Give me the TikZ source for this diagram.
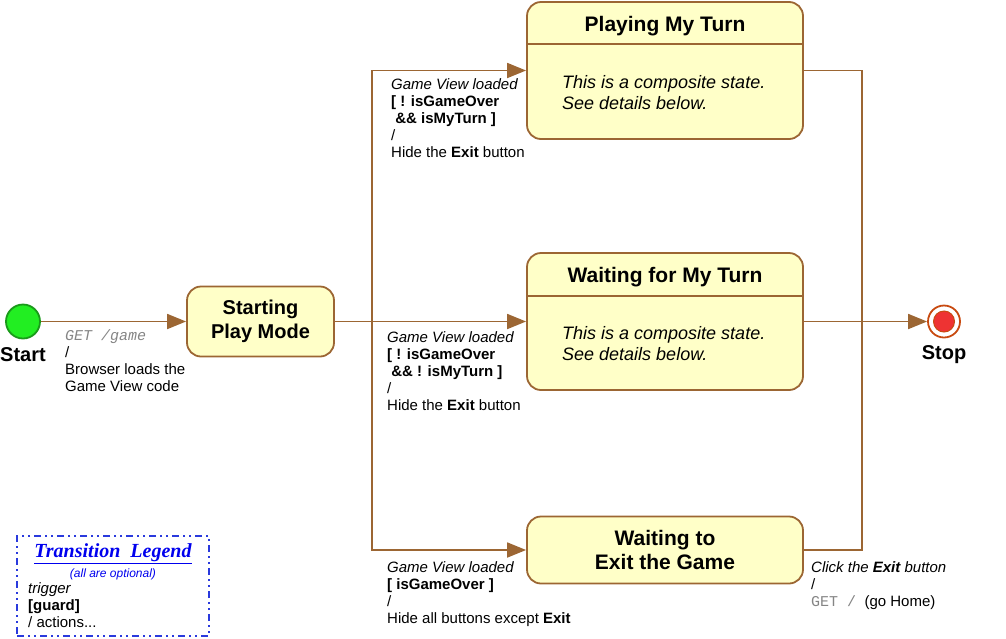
\documentclass[tikz,border=0pt]{standalone}
\usepackage{fontspec}
\setmainfont{Liberation Sans}
\setmonofont{Liberation Mono}
\newfontfamily\legendfont{Liberation Serif}
\usetikzlibrary{arrows.meta,positioning,calc}

\definecolor{linebrown}{HTML}{9C6633}
\definecolor{statefill}{HTML}{FFFFC8}
\definecolor{startgreen}{HTML}{22EE22}
\definecolor{startborder}{HTML}{1A9A1A}
\definecolor{stopring}{HTML}{C84A10}
\definecolor{stopred}{HTML}{EE3333}
\definecolor{legendblue}{HTML}{2A3ADD}
\definecolor{titleblue}{HTML}{0000EE}
\definecolor{codegray}{HTML}{858585}
\newcommand{\codetxt}[1]{{\ttfamily\color{codegray}#1}}

\begin{document}
\begin{tikzpicture}[x=1pt,y=-1pt,
  state/.style={draw=linebrown, fill=statefill, line width=1.8pt, rounded corners=14pt},
  trans/.style={draw=linebrown, line width=1.8pt, -{Triangle[length=19pt,width=15pt]}},
  bus/.style={draw=linebrown, line width=1.8pt},
  lbl/.style={anchor=north west, align=left, inner sep=0pt, font=\fontsize{15}{17}\selectfont},
  titletext/.style={font=\fontsize{21}{24}\selectfont\bfseries, align=center, inner sep=0pt},
  bodytext/.style={anchor=north west, align=left, inner sep=0pt, font=\fontsize{18}{21}\selectfont\itshape}]
  \useasboundingbox (0,0) rectangle (1006,638);

  % Start and Stop
  \node[circle, draw=startborder, fill=startgreen, line width=1.8pt, minimum size=34pt, inner sep=0pt] (start) at (23,321.5) {};
  \node[font=\fontsize{20}{22}\selectfont\bfseries] (startlbl) at (23,355) {Start};
  \node[circle, draw=stopring, fill=white, line width=1.8pt, minimum size=32pt, inner sep=0pt] (stop) at (944,321.5) {};
  \fill[stopred, draw=stopring, line width=1pt] (stop.center) circle (10.5pt);
  \node[font=\fontsize{20}{22}\selectfont\bfseries] (stoplbl) at (944,355) {Stop};

  % --- States ---
  \node[state, minimum width=147pt, minimum height=70pt, titletext, font=\fontsize{20}{24}\selectfont\bfseries] (mode) at (260.5,321.5) {Starting\\Play Mode};

  \node[state, minimum width=276pt, minimum height=137pt] (play) at (665,70.5) {};
  \draw[linebrown, line width=1.8pt] ([yshift=-43pt]play.north west) -- ([yshift=-43pt]play.north east);
  \node[titletext] (playtitle) at (665,26) {Playing My Turn};
  \node[bodytext] (playbody) at (562,75) {This is a composite state.\\See details below.};

  \node[state, minimum width=276pt, minimum height=137pt] (wait) at (665,321.5) {};
  \draw[linebrown, line width=1.8pt] ([yshift=-44pt]wait.north west) -- ([yshift=-44pt]wait.north east);
  \node[titletext] (waittitle) at (665,277) {Waiting for My Turn};
  \node[bodytext] (waitbody) at (562,326) {This is a composite state.\\See details below.};

  \node[state, minimum width=276pt, minimum height=67pt, titletext] (exitst) at (665,550) {Waiting to\\Exit the Game};

  % --- Transitions ---
  \coordinate (fork) at (372,321.5);
  \coordinate (join) at (862,321.5);
  \draw[trans] (start) -- (mode);
  \draw[bus] (mode.east) -- (fork);
  \draw[trans] (fork) |- (play.west);
  \draw[trans] (fork) -- (wait.west);
  \draw[trans] (fork) |- (exitst.west);
  \draw[bus] (play.east) -| (join);
  \draw[bus] (exitst.east) -| (join);
  \draw[trans] (wait.east) -- (stop);

  % Transition labels
  \node[lbl] (startlab) at (65,329) {\codetxt{\itshape GET /game}\\/\\Browser loads the\\Game View code};
  \node[lbl] (playlab) at (391,78) {\textit{Game View loaded}\\\textbf{[ ! isGameOver}\\\textbf{\ \&\& isMyTurn ]}\\/\\Hide the \textbf{Exit} button};
  \node[lbl] (waitlab) at (387,331) {\textit{Game View loaded}\\\textbf{[ ! isGameOver}\\\textbf{\ \&\& ! isMyTurn ]}\\/\\Hide the \textbf{Exit} button};
  \node[lbl] (exitlab) at (387,561) {\textit{Game View loaded}\\\textbf{[ isGameOver ]}\\/\\Hide all buttons except \textbf{Exit}};
  \node[lbl] (stoplab) at (811,561) {\textit{Click the \textbf{Exit} button}\\/\\\codetxt{GET /}\ \ (go Home)};

  % --- Legend ---
  \node[draw=legendblue, line width=1.5pt, dash pattern=on 7pt off 4pt on 2pt off 4pt on 2pt off 4pt, minimum width=192pt, minimum height=100pt] (legend) at (113,586) {};
  \node[text=titleblue, font=\fontsize{20}{22}\legendfont\bfseries\itshape] (legendtitle) at (113,554) {\underline{Transition\ \ Legend}};
  \node[text=titleblue, font=\fontsize{12}{14}\selectfont\itshape] (legendnote) at (113,574) {(all are optional)};
  \node[lbl] (legendrows) at (28,582) {\textit{trigger}\\\textbf{[guard]}\\/ actions...};
\end{tikzpicture}
\end{document}
